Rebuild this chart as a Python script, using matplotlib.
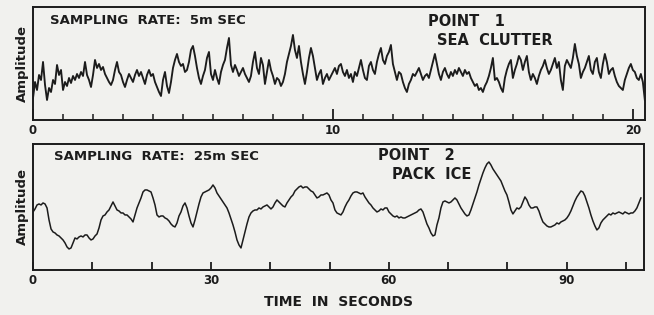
import numpy as np
import matplotlib
matplotlib.use("Agg")
import matplotlib.pyplot as plt

# ---- data (amplitude in arbitrary units) ----
sea_clutter = [
    22, 38, 30, 45, 40, 58, 35, 20, 32, 28, 40, 36, 55, 45, 50, 30, 38, 34, 42, 37,
    44, 40, 46, 42, 48, 44, 58, 45, 40, 33, 45, 60, 52, 56, 50, 53, 46, 42, 38, 35,
    40, 50, 58, 48, 45, 38, 33, 40, 46, 42, 38, 45, 50, 44, 48, 42, 36, 45, 50, 44,
    46, 38, 33, 28, 24, 40, 48, 34, 27, 38, 52, 60, 66, 58, 54, 56, 48, 50, 58, 70,
    74, 64, 52, 42, 36, 44, 50, 62, 68, 46, 40, 50, 42, 36, 48, 55, 60, 72, 82, 55,
    48, 55, 50, 44, 48, 52, 46, 42, 38, 44, 58, 68, 52, 46, 62, 55, 36, 48, 60, 50,
    44, 36, 42, 40, 34, 38, 46, 58, 66, 74, 85, 70, 62, 74, 58, 46, 36, 48, 62, 72,
    64, 52, 40, 46, 50, 36, 42, 46, 40, 44, 48, 52, 46, 54, 56, 48, 44, 50, 42, 46,
    38, 48, 44, 52, 60, 50, 42, 40, 54, 58, 50, 46, 58, 66, 72, 60, 56, 64, 68, 75,
    56, 48, 40, 48, 46, 38, 32, 28, 36, 40, 46, 44, 48, 52, 46, 40, 44, 46, 42, 50,
    58, 66, 56, 46, 40, 48, 52, 46, 42, 48, 44, 50, 46, 52, 48, 44, 50, 46, 48, 42,
    38, 34, 36, 30, 32, 28, 34, 38, 44, 52, 62, 40, 42, 38, 32, 28, 42, 50, 56, 60,
    42, 50, 56, 64, 60, 50, 58, 64, 48, 40, 46, 42, 36, 44, 50, 54, 60, 52, 46, 50,
    56, 62, 52, 58, 40, 30, 54, 60, 56, 52, 62, 76, 64, 56, 42, 48, 52, 58, 64, 50,
    46, 58, 62, 48, 42, 56, 66, 58, 46, 50, 52, 44, 38, 34, 32, 30, 40, 46, 52, 56,
    50, 48, 42, 40, 46, 38, 20,
]
pack_ice = [
    58, 61, 65, 66, 65, 67, 66, 62, 50, 41, 38, 37, 35, 34, 32, 30, 27, 23, 21, 22,
    27, 32, 31, 33, 34, 33, 35, 35, 32, 30, 31, 34, 36, 42, 50, 54, 55, 58, 60, 64,
    68, 64, 60, 59, 57, 57, 55, 55, 53, 51, 48, 55, 62, 67, 72, 78, 80, 80, 79, 78,
    72, 65, 55, 53, 54, 54, 52, 51, 49, 46, 44, 43, 47, 54, 58, 64, 67, 62, 54, 47,
    43, 50, 58, 66, 73, 77, 78, 79, 80, 82, 85, 82, 77, 74, 71, 68, 65, 62, 57, 51,
    45, 38, 30, 25, 22, 30, 38, 46, 53, 57, 59, 60, 60, 62, 61, 63, 64, 65, 63, 61,
    63, 67, 70, 68, 66, 64, 63, 67, 70, 73, 75, 79, 81, 83, 84, 82, 83, 83, 81, 79,
    78, 75, 72, 73, 75, 75, 76, 77, 75, 70, 67, 60, 57, 56, 55, 58, 63, 67, 70, 74,
    77, 78, 78, 77, 76, 77, 73, 70, 67, 65, 62, 60, 58, 59, 61, 60, 62, 62, 58, 56,
    54, 53, 54, 52, 53, 52, 52, 53, 54, 55, 56, 57, 58, 60, 61, 58, 52, 46, 42, 37,
    34, 35, 45, 52, 62, 68, 69, 68, 67, 68, 70, 72, 70, 66, 62, 59, 56, 54, 55, 60,
    66, 72, 78, 85, 91, 97, 102, 106, 108, 105, 101, 98, 95, 92, 89, 84, 79, 75, 68, 60,
    56, 59, 62, 61, 63, 68, 73, 70, 65, 62, 62, 63, 63, 59, 53, 48, 46, 44, 43, 43,
    44, 45, 47, 46, 48, 49, 50, 52, 55, 59, 64, 69, 73, 76, 79, 78, 74, 68, 62, 55,
    49, 44, 40, 42, 47, 50, 52, 54, 56, 55, 57, 56, 57, 58, 57, 56, 58, 57, 56, 57,
    57, 59, 62, 67, 72,
]
top_duration = 20.4      # seconds spanned by the sea-clutter trace
bottom_duration = 102.5  # seconds spanned by the pack-ice trace
top_ticklabels = [0, 10, 20]
bottom_ticklabels = [0, 30, 60, 90]

BG = "#f1f1ee"
INK = "#1c1c1c"
plt.rcParams["font.family"] = ["DejaVu Sans"]
plt.rcParams["font.weight"] = "bold"

fig = plt.figure(figsize=(6.54, 3.15), dpi=100, facecolor=BG)

# ---------- top panel ----------
ax1 = fig.add_axes([0.0505, 0.619, 0.9355, 0.359], facecolor=BG)
t1 = np.linspace(0, top_duration, len(sea_clutter))
ax1.plot(t1, sea_clutter, color=INK, lw=1.35)
ax1.set_xlim(0, top_duration)
ax1.set_ylim(0, 113)
ax1.set_yticks([])
ax1.set_xticks(top_ticklabels)
ax1.set_xticklabels([str(v) for v in top_ticklabels], fontsize=8.5, fontweight="bold", color=INK)
ax1.set_xticks(np.arange(0, 21, 1), minor=True)
ax1.tick_params(axis="x", which="major", direction="in", length=8, width=1.3, color=INK, pad=3)
ax1.tick_params(axis="x", which="minor", direction="in", length=4, width=1.1, color=INK)
for s in ax1.spines.values():
    s.set_color(INK)
    s.set_linewidth(1.4)
ax1.set_ylabel("Amplitude", fontsize=9.5, fontweight="bold", color=INK, labelpad=3)
ax1.text(0.028, 0.88, "SAMPLING  RATE:  5m SEC", transform=ax1.transAxes, fontsize=9.5,
         fontweight="bold", color=INK, va="center", ha="left")
ax1.text(0.645, 0.87, "POINT   1", transform=ax1.transAxes, fontsize=10.5,
         fontweight="bold", color=INK, va="center", ha="left")
ax1.text(0.66, 0.70, "SEA  CLUTTER", transform=ax1.transAxes, fontsize=10.5,
         fontweight="bold", color=INK, va="center", ha="left")

# ---------- bottom panel ----------
ax2 = fig.add_axes([0.0505, 0.143, 0.934, 0.400], facecolor=BG)
t2 = np.linspace(0, bottom_duration, len(pack_ice))
ax2.plot(t2, pack_ice, color=INK, lw=1.1)
ax2.set_xlim(0, 103)
ax2.set_ylim(0, 126)
ax2.set_yticks([])
ax2.set_xticks(bottom_ticklabels)
ax2.set_xticklabels([str(v) for v in bottom_ticklabels], fontsize=8.5, fontweight="bold", color=INK)
ax2.set_xticks(np.arange(0, 101, 10), minor=True)
ax2.tick_params(axis="x", which="major", direction="in", length=6, width=1.3, color=INK, pad=3)
ax2.tick_params(axis="x", which="minor", direction="in", length=6, width=1.3, color=INK)
for s in ax2.spines.values():
    s.set_color(INK)
    s.set_linewidth(1.4)
ax2.set_ylabel("Amplitude", fontsize=9.5, fontweight="bold", color=INK, labelpad=3)
ax2.set_xlabel("TIME  IN  SECONDS", fontsize=10, fontweight="bold", color=INK, labelpad=6)
ax2.text(0.035, 0.9, "SAMPLING  RATE:  25m SEC", transform=ax2.transAxes, fontsize=9.5,
         fontweight="bold", color=INK, va="center", ha="left")
ax2.text(0.565, 0.91, "POINT   2", transform=ax2.transAxes, fontsize=10.5,
         fontweight="bold", color=INK, va="center", ha="left")
ax2.text(0.587, 0.755, "PACK  ICE", transform=ax2.transAxes, fontsize=10.5,
         fontweight="bold", color=INK, va="center", ha="left")

fig.savefig("out.png", dpi=100, facecolor=BG)
